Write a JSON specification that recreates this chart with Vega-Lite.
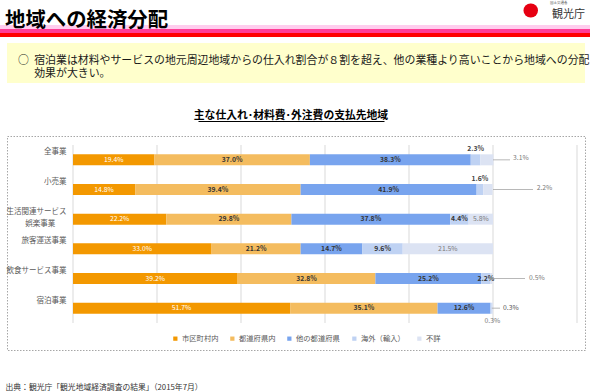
{
  "$schema": "https://vega.github.io/schema/vega-lite/v6.json",
  "background": "#ffffff",
  "padding": 0,
  "spacing": 0,
  "bounds": "flush",
  "center": true,
  "resolve": {"scale": {"color": "independent"}, "legend": {"color": "independent"}},
  "config": {
    "font": "Noto Sans CJK JP",
    "view": {"stroke": null},
    "title": {"font": "Noto Sans CJK JP", "subtitleFont": "Noto Sans CJK JP"},
    "axis": {"labelFont": "Noto Sans CJK JP", "titleFont": "Noto Sans CJK JP"},
    "legend": {"labelFont": "Noto Sans CJK JP"}
  },
  "title": {
    "text": "国土交通省\u3000\u3000\u3000\u3000\u3000\u200b",
    "subtitle": "観光庁",
    "anchor": "end",
    "orient": "top",
    "offset": -20,
    "dx": -7,
    "fontSize": 3.5,
    "fontWeight": "normal",
    "color": "#555555",
    "subtitleFontSize": 11,
    "subtitleColor": "#333333",
    "subtitlePadding": 5
  },
  "datasets": {
    "main": [
      {"cat": "全事業", "region": "市区町村内", "seq": 1, "v": 0.194},
      {"cat": "全事業", "region": "都道府県内", "seq": 2, "v": 0.370},
      {"cat": "全事業", "region": "他の都道府県", "seq": 3, "v": 0.383},
      {"cat": "全事業", "region": "海外（輸入）", "seq": 4, "v": 0.023},
      {"cat": "全事業", "region": "不詳", "seq": 5, "v": 0.031},
      {"cat": "小売業", "region": "市区町村内", "seq": 1, "v": 0.148},
      {"cat": "小売業", "region": "都道府県内", "seq": 2, "v": 0.394},
      {"cat": "小売業", "region": "他の都道府県", "seq": 3, "v": 0.419},
      {"cat": "小売業", "region": "海外（輸入）", "seq": 4, "v": 0.016},
      {"cat": "小売業", "region": "不詳", "seq": 5, "v": 0.022},
      {"cat": "生活関連サービス娯楽事業", "region": "市区町村内", "seq": 1, "v": 0.222},
      {"cat": "生活関連サービス娯楽事業", "region": "都道府県内", "seq": 2, "v": 0.298},
      {"cat": "生活関連サービス娯楽事業", "region": "他の都道府県", "seq": 3, "v": 0.378},
      {"cat": "生活関連サービス娯楽事業", "region": "海外（輸入）", "seq": 4, "v": 0.044},
      {"cat": "生活関連サービス娯楽事業", "region": "不詳", "seq": 5, "v": 0.058},
      {"cat": "旅客運送事業", "region": "市区町村内", "seq": 1, "v": 0.330},
      {"cat": "旅客運送事業", "region": "都道府県内", "seq": 2, "v": 0.212},
      {"cat": "旅客運送事業", "region": "他の都道府県", "seq": 3, "v": 0.147},
      {"cat": "旅客運送事業", "region": "海外（輸入）", "seq": 4, "v": 0.096},
      {"cat": "旅客運送事業", "region": "不詳", "seq": 5, "v": 0.215},
      {"cat": "飲食サービス事業", "region": "市区町村内", "seq": 1, "v": 0.392},
      {"cat": "飲食サービス事業", "region": "都道府県内", "seq": 2, "v": 0.328},
      {"cat": "飲食サービス事業", "region": "他の都道府県", "seq": 3, "v": 0.252},
      {"cat": "飲食サービス事業", "region": "海外（輸入）", "seq": 4, "v": 0.022},
      {"cat": "飲食サービス事業", "region": "不詳", "seq": 5, "v": 0.005},
      {"cat": "宿泊事業", "region": "市区町村内", "seq": 1, "v": 0.517},
      {"cat": "宿泊事業", "region": "都道府県内", "seq": 2, "v": 0.351},
      {"cat": "宿泊事業", "region": "他の都道府県", "seq": 3, "v": 0.126},
      {"cat": "宿泊事業", "region": "海外（輸入）", "seq": 4, "v": 0.003},
      {"cat": "宿泊事業", "region": "不詳", "seq": 5, "v": 0.003}
    ]
  },
  "vconcat": [
    {
      "width": 592,
      "height": 43,
      "data": {"values": [{"band": "a"}, {"band": "b"}, {"band": "c"}]},
      "title": {
        "text": "地域への経済分配",
        "anchor": "start",
        "frame": "group",
        "orient": "top",
        "offset": -31.5,
        "dx": 5,
        "fontSize": 20.4,
        "fontWeight": "bold",
        "color": "#000000"
      },
      "mark": {"type": "rect"},
      "encoding": {
        "y": {
          "field": "band",
          "type": "nominal",
          "scale": {"domain": ["a", "b", "c"], "range": [25, 37], "paddingInner": 0, "paddingOuter": 0},
          "axis": {
            "orient": "right",
            "offset": -62,
            "values": ["a"],
            "labels": false,
            "domain": false,
            "grid": false,
            "ticks": true,
            "bandPosition": 0.5,
            "tickSize": 0.5,
            "tickWidth": 14,
            "tickCap": "round",
            "tickColor": "#e60012",
            "tickOffset": -17,
            "title": null
          }
        },
        "color": {
          "field": "band",
          "type": "nominal",
          "scale": {"domain": ["a", "b", "c"], "range": ["#ffcdee", "#ff3d96", "#ff0000"]},
          "legend": null
        }
      }
    },
    {
      "width": 578,
      "height": 93,
      "data": {"values": [{"note": "要旨"}]},
      "title": {
        "text": ["\u200b\u2002\u2002○\u2002宿泊業は材料やサービスの地元周辺地域からの仕入れ割合が８割を超え、他の業種より高いことから地域への分配", "\u200b\u3000\u3000\u2002効果が大きい。"],
        "anchor": "start",
        "frame": "group",
        "orient": "top",
        "offset": -36,
        "fontSize": 10.9,
        "fontWeight": "normal",
        "color": "#1a1a1a",
        "lineHeight": 13.3
      },
      "mark": {"type": "rect", "color": "#ffffcc"},
      "encoding": {
        "y": {
          "field": "note",
          "type": "nominal",
          "scale": {"range": [0, 40], "paddingInner": 0, "paddingOuter": 0},
          "axis": null
        }
      }
    },
    {
      "width": 578,
      "height": 214,
      "view": {"stroke": "#a6a6a6", "strokeDash": [1.5, 1.5], "strokeWidth": 1},
      "title": {
        "text": "主な仕入れ･材料費･外注費の支払先地域",
        "anchor": "middle",
        "frame": "group",
        "orient": "top",
        "offset": 0,
        "dx": -5,
        "fontSize": 10.8,
        "fontWeight": "bold",
        "color": "#000000"
      },
      "resolve": {"scale": {"x": "independent"}},
      "layer": [
        {
          "resolve": {"scale": {"y": "independent"}},
          "layer": [
            {
              "data": {"values": [{"t": 0}, {"t": 0.2}, {"t": 0.4}, {"t": 0.6}, {"t": 0.8}, {"t": 1.0}, {"t": 1.2}]},
              "mark": {"type": "rule", "color": "#d9d9d9", "strokeWidth": 1},
              "encoding": {
                "x": {
                  "field": "t",
                  "type": "quantitative",
                  "scale": {"domain": [0, 1.2], "range": [66, 570], "nice": false, "zero": false},
                  "axis": {
                    "labels": false,
                    "ticks": false,
                    "domain": false,
                    "grid": false,
                    "title": "出典：観光庁「観光地域経済調査の結果」（2015年7月）",
                    "titleX": -2,
                    "titleY": 37,
                    "titleAlign": "left",
                    "titleBaseline": "middle",
                    "titleFontSize": 7.8,
                    "titleFontWeight": "normal",
                    "titleColor": "#333333"
                  }
                },
                "y": {"datum": 0, "type": "quantitative", "scale": {"domain": [0, 1], "range": [9, 187]}, "axis": null},
                "y2": {"datum": 1}
              }
            },
            {
              "data": {"name": "main"},
              "layer": [
                {
                  "mark": {"type": "bar", "size": 11},
                  "encoding": {
                    "x": {"field": "v", "type": "quantitative", "stack": "zero", "scale": {"domain": [0, 1.2], "range": [66, 570], "nice": false, "zero": false}},
                    "y": {
                      "field": "cat",
                      "type": "nominal",
                      "sort": null,
                      "scale": {"domain": ["全事業", "小売業", "生活関連サービス娯楽事業", "旅客運送事業", "飲食サービス事業", "宿泊事業"], "range": [9, 187], "paddingInner": 0, "paddingOuter": 0},
                      "axis": {
                        "orient": "left",
                        "offset": -66,
                        "domain": false,
                        "ticks": false,
                        "tickSize": 0,
                        "grid": false,
                        "title": null,
                        "labelPadding": 7,
                        "labelFontSize": 7.5,
                        "labelColor": "#595959",
                        "labelBaseline": "top",
                        "labelOffset": -11.5,
                        "labelLineHeight": 12,
                        "labelLimit": 0,
                        "labelExpr": "datum.value == '生活関連サービス娯楽事業' ? ['生活関連サービス', '娯楽事業\u3000\u2002\u200b'] : datum.value"
                      }
                    },
                    "color": {
                      "field": "region",
                      "type": "nominal",
                      "sort": null,
                      "scale": {"domain": ["市区町村内", "都道府県内", "他の都道府県", "海外（輸入）", "不詳"], "range": ["#f39800", "#f4bc5f", "#78a4ee", "#bfd2f3", "#dce3f3"]},
                      "legend": {
                        "orient": "none",
                        "legendX": 164.7,
                        "legendY": 199,
                        "direction": "horizontal",
                        "gridAlign": "none",
                        "title": null,
                        "symbolType": "square",
                        "symbolSize": 18,
                        "symbolStrokeWidth": 0,
                        "labelFontSize": 7.3,
                        "labelColor": "#595959",
                        "labelOffset": 3,
                        "columnPadding": 10,
                        "padding": 0
                      }
                    },
                    "order": {"field": "seq", "type": "quantitative"}
                  }
                },
                {
                  "mark": {"type": "text", "fontSize": 6.8, "color": "#ffffff", "baseline": "middle", "align": "center"},
                  "encoding": {
                    "x": {"field": "v", "type": "quantitative", "stack": "zero", "bandPosition": 0.5},
                    "y": {"field": "cat", "type": "nominal", "sort": null},
                    "detail": {"field": "region"},
                    "order": {"field": "seq", "type": "quantitative"},
                    "text": {"condition": {"test": "datum.region == '市区町村内'", "field": "v", "type": "quantitative", "format": ".1%"}, "value": ""}
                  }
                },
                {
                  "mark": {"type": "text", "fontSize": 6.8, "fontWeight": "bold", "color": "#333333", "baseline": "middle", "align": "center"},
                  "encoding": {
                    "x": {"field": "v", "type": "quantitative", "stack": "zero", "bandPosition": 0.5},
                    "y": {"field": "cat", "type": "nominal", "sort": null},
                    "detail": {"field": "region"},
                    "order": {"field": "seq", "type": "quantitative"},
                    "text": {"condition": {"test": "datum.region == '都道府県内' || datum.region == '他の都道府県' || (datum.region == '海外（輸入）' && (datum.cat == '生活関連サービス娯楽事業' || datum.cat == '旅客運送事業' || datum.cat == '飲食サービス事業'))", "field": "v", "type": "quantitative", "format": ".1%"}, "value": ""}
                  }
                },
                {
                  "mark": {"type": "text", "fontSize": 6.8, "color": "#7a7a7a", "baseline": "middle", "align": "center"},
                  "encoding": {
                    "x": {"field": "v", "type": "quantitative", "stack": "zero", "bandPosition": 0.5},
                    "y": {"field": "cat", "type": "nominal", "sort": null},
                    "detail": {"field": "region"},
                    "order": {"field": "seq", "type": "quantitative"},
                    "text": {"condition": {"test": "datum.region == '不詳' && (datum.cat == '生活関連サービス娯楽事業' || datum.cat == '旅客運送事業')", "field": "v", "type": "quantitative", "format": ".1%"}, "value": ""}
                  }
                },
                {
                  "mark": {"type": "text", "fontSize": 6.8, "fontWeight": "bold", "color": "#404040", "baseline": "middle", "align": "center", "dy": -11},
                  "encoding": {
                    "x": {"field": "v", "type": "quantitative", "stack": "zero", "bandPosition": 0.5},
                    "y": {"field": "cat", "type": "nominal", "sort": null},
                    "detail": {"field": "region"},
                    "order": {"field": "seq", "type": "quantitative"},
                    "text": {"condition": {"test": "datum.region == '海外（輸入）' && (datum.cat == '全事業' || datum.cat == '小売業')", "field": "v", "type": "quantitative", "format": ".1%"}, "value": ""}
                  }
                },
                {
                  "mark": {"type": "text", "fontSize": 6.8, "color": "#7a7a7a", "baseline": "middle", "align": "center", "dy": 13},
                  "encoding": {
                    "x": {"field": "v", "type": "quantitative", "stack": "zero", "bandPosition": 0.5},
                    "y": {"field": "cat", "type": "nominal", "sort": null},
                    "detail": {"field": "region"},
                    "order": {"field": "seq", "type": "quantitative"},
                    "text": {"condition": {"test": "datum.region == '不詳' && datum.cat == '宿泊事業'", "field": "v", "type": "quantitative", "format": ".1%"}, "value": ""}
                  }
                },
                {
                  "transform": [{"filter": "datum.cat == '全事業' && datum.region == '不詳'"}],
                  "layer": [
                    {
                      "mark": {"type": "rule", "color": "#a6a6a6", "strokeWidth": 0.8},
                      "encoding": {
                        "x": {"datum": 1.0, "type": "quantitative"},
                        "x2": {"datum": 1.0405},
                        "y": {"field": "cat", "type": "nominal", "sort": null}
                      }
                    },
                    {
                      "mark": {"type": "text", "fontSize": 6.8, "color": "#7a7a7a", "baseline": "middle", "align": "left", "dy": -2},
                      "encoding": {
                        "x": {"datum": 1.0476, "type": "quantitative"},
                        "y": {"field": "cat", "type": "nominal", "sort": null},
                        "text": {"field": "v", "type": "quantitative", "format": ".1%"}
                      }
                    }
                  ]
                },
                {
                  "transform": [{"filter": "datum.cat == '小売業' && datum.region == '不詳'"}],
                  "layer": [
                    {
                      "mark": {"type": "rule", "color": "#a6a6a6", "strokeWidth": 0.8},
                      "encoding": {
                        "x": {"datum": 1.0, "type": "quantitative"},
                        "x2": {"datum": 1.0952},
                        "y": {"field": "cat", "type": "nominal", "sort": null}
                      }
                    },
                    {
                      "mark": {"type": "text", "fontSize": 6.8, "color": "#7a7a7a", "baseline": "middle", "align": "left", "dy": -2},
                      "encoding": {
                        "x": {"datum": 1.104, "type": "quantitative"},
                        "y": {"field": "cat", "type": "nominal", "sort": null},
                        "text": {"field": "v", "type": "quantitative", "format": ".1%"}
                      }
                    }
                  ]
                },
                {
                  "transform": [{"filter": "datum.cat == '飲食サービス事業' && datum.region == '不詳'"}],
                  "layer": [
                    {
                      "mark": {"type": "rule", "color": "#a6a6a6", "strokeWidth": 0.8},
                      "encoding": {
                        "x": {"datum": 1.0, "type": "quantitative"},
                        "x2": {"datum": 1.0762},
                        "y": {"field": "cat", "type": "nominal", "sort": null}
                      }
                    },
                    {
                      "mark": {"type": "text", "fontSize": 6.8, "color": "#7a7a7a", "baseline": "middle", "align": "left", "dy": -1},
                      "encoding": {
                        "x": {"datum": 1.0857, "type": "quantitative"},
                        "y": {"field": "cat", "type": "nominal", "sort": null},
                        "text": {"field": "v", "type": "quantitative", "format": ".1%"}
                      }
                    }
                  ]
                },
                {
                  "transform": [{"filter": "datum.cat == '宿泊事業' && datum.region == '海外（輸入）'"}],
                  "layer": [
                    {
                      "mark": {"type": "rule", "color": "#a6a6a6", "strokeWidth": 0.8},
                      "encoding": {
                        "x": {"datum": 0.997, "type": "quantitative"},
                        "x2": {"datum": 1.0167},
                        "y": {"field": "cat", "type": "nominal", "sort": null}
                      }
                    },
                    {
                      "mark": {"type": "text", "fontSize": 6.8, "color": "#555555", "baseline": "middle", "align": "left"},
                      "encoding": {
                        "x": {"datum": 1.0238, "type": "quantitative"},
                        "y": {"field": "cat", "type": "nominal", "sort": null},
                        "text": {"field": "v", "type": "quantitative", "format": ".1%"}
                      }
                    }
                  ]
                }
              ]
            }
          ]
        },
        {
          "data": {"values": [{"u": 0}, {"u": 1}]},
          "mark": {"type": "point", "opacity": 0},
          "encoding": {
            "x": {
              "field": "u",
              "type": "quantitative",
              "scale": {"domain": [0, 1], "range": [191, 377], "nice": false, "zero": false},
              "axis": {
                "orient": "top",
                "offset": 15,
                "labels": false,
                "ticks": false,
                "grid": false,
                "title": null,
                "domain": true,
                "domainColor": "#000000",
                "domainWidth": 1
              }
            }
          }
        }
      ]
    }
  ]
}
